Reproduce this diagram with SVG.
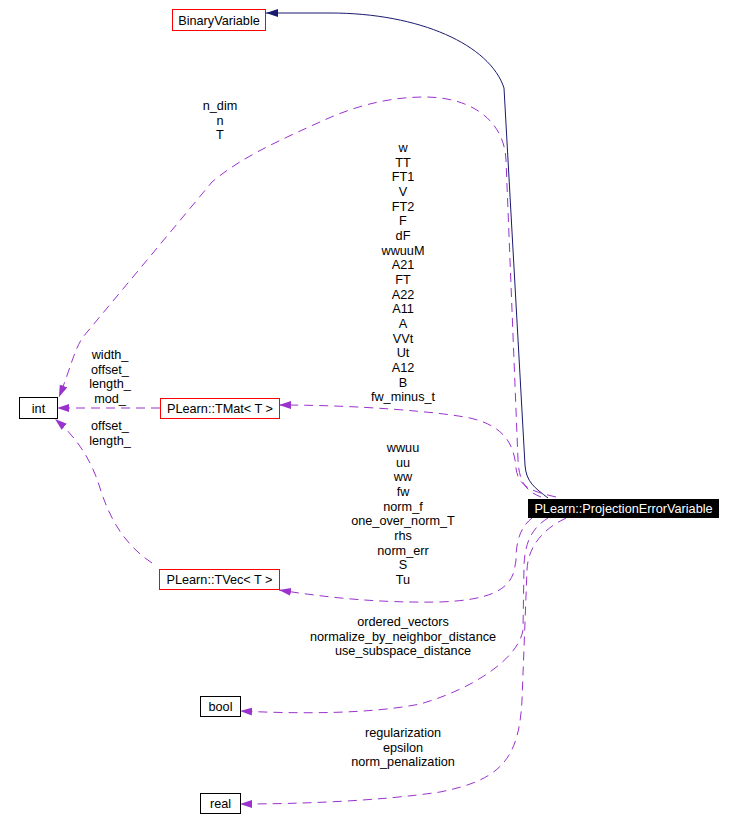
<svg xmlns="http://www.w3.org/2000/svg" width="734" height="833" viewBox="0 0 734 833">
<style>
text{font-family:"Liberation Sans",Arial,sans-serif;font-size:12.7px;fill:#000;text-anchor:middle}
.box{fill:#fff;stroke:#000;stroke-width:1}
.red{fill:#fff;stroke:#ff0000;stroke-width:1}
.dep{fill:none;stroke:#9a32cd;stroke-width:1;stroke-dasharray:9,6}
.inh{fill:none;stroke:#191970;stroke-width:1}
</style>
<defs>
<marker id="ap" markerUnits="userSpaceOnUse" markerWidth="12" markerHeight="10" viewBox="0 0 12 10" refX="12" refY="5" orient="auto"><path d="M0,1 L12,5 L0,9 z" fill="#9a32cd"/></marker>
<marker id="an" markerUnits="userSpaceOnUse" markerWidth="12" markerHeight="10" viewBox="0 0 12 10" refX="12" refY="5" orient="auto"><path d="M0,1 L12,5 L0,9 z" fill="#191970"/></marker>
</defs>
<g id="connectors">
<path class="inh" marker-end="url(#an)" d="M548,498 C535,488 526,482 525,465 L504,88 C490,45 420,13 330,13 L266,13"/>
<path class="dep" marker-end="url(#ap)" d="M541,497 C528,492 519,484 518,460 L506,160 C504,118 468,97 425,97 C385,97 350,108 320,122 C280,140 240,158 212,182 L83,337 C74,350 70,370 59,397"/>
<path class="dep" marker-end="url(#ap)" d="M556,497 C535,492 518,488 516,468 C514,440 500,425 470,418 C440,412 360,405 279,405"/>
<path class="dep" marker-end="url(#ap)" d="M532,518 C522,526 516,538 516,560 L515,566 C512,590 490,600 440,602 C380,603 330,598 279,590"/>
<path class="dep" marker-end="url(#ap)" d="M548,518 C532,528 525,542 524,565 L523,630 C518,660 470,690 420,704 C370,714 300,714 240,711"/>
<path class="dep" marker-end="url(#ap)" d="M566,518 C545,528 528,545 527,570 L522,700 C519,760 500,780 440,792 C380,801 300,804 240,804"/>
<path class="dep" marker-end="url(#ap)" d="M160,408 L57,408"/>
<path class="dep" marker-end="url(#ap)" d="M152,563 C125,545 110,520 100,488 C93,465 80,440 55,419"/>
<g id="labels">
<text x="220" y="110">n_dim</text>
<text x="220" y="124.7">n</text>
<text x="220" y="139.3">T</text>
<text x="403" y="152">w</text>
<text x="403" y="166.7">TT</text>
<text x="403" y="181.3">FT1</text>
<text x="403" y="196">V</text>
<text x="403" y="210.7">FT2</text>
<text x="403" y="225.3">F</text>
<text x="403" y="240">dF</text>
<text x="403" y="254.7">wwuuM</text>
<text x="403" y="269.3">A21</text>
<text x="403" y="284">FT</text>
<text x="403" y="298.7">A22</text>
<text x="403" y="313.3">A11</text>
<text x="403" y="328">A</text>
<text x="403" y="342.7">VVt</text>
<text x="403" y="357.3">Ut</text>
<text x="403" y="372">A12</text>
<text x="403" y="386.7">B</text>
<text x="403" y="401.3">fw_minus_t</text>
<text x="110" y="359">width_</text>
<text x="110" y="373.7">offset_</text>
<text x="110" y="388.3">length_</text>
<text x="110" y="403">mod_</text>
<text x="110" y="430">offset_</text>
<text x="110" y="444.7">length_</text>
<text x="403" y="452">wwuu</text>
<text x="403" y="466.7">uu</text>
<text x="403" y="481.3">ww</text>
<text x="403" y="496">fw</text>
<text x="403" y="510.7">norm_f</text>
<text x="403" y="525.3">one_over_norm_T</text>
<text x="403" y="540">rhs</text>
<text x="403" y="554.7">norm_err</text>
<text x="403" y="569.3">S</text>
<text x="403" y="584">Tu</text>
<text x="403" y="626">ordered_vectors</text>
<text x="403" y="640.7">normalize_by_neighbor_distance</text>
<text x="403" y="655.3">use_subspace_distance</text>
<text x="403" y="737">regularization</text>
<text x="403" y="751.7">epsilon</text>
<text x="403" y="766.3">norm_penalization</text>
</g>
</g>
<g id="node_BinaryVariable"><rect class="red" x="172.5" y="9.5" width="93" height="21"/><text x="219" y="24.5">BinaryVariable</text></g>
<g id="node_int"><rect class="box" x="19.5" y="397.5" width="38" height="21"/><text x="38.5" y="412.5">int</text></g>
<g id="node_TMat"><rect class="red" x="160.5" y="398.5" width="119" height="20"/><text x="220" y="413">PLearn::TMat&lt; T &gt;</text></g>
<g id="node_TVec"><rect class="red" x="159.5" y="569.5" width="120" height="20"/><text x="219.5" y="584">PLearn::TVec&lt; T &gt;</text></g>
<g id="node_bool"><rect class="box" x="200.5" y="696.5" width="40" height="20"/><text x="220.5" y="711">bool</text></g>
<g id="node_real"><rect class="box" x="200.5" y="793.5" width="40" height="20"/><text x="220.5" y="808">real</text></g>
<g id="node_ProjectionErrorVariable"><rect x="528" y="499" width="191" height="19" fill="#000"/><text x="623.5" y="513" style="fill:#fff">PLearn::ProjectionErrorVariable</text></g>
</svg>
